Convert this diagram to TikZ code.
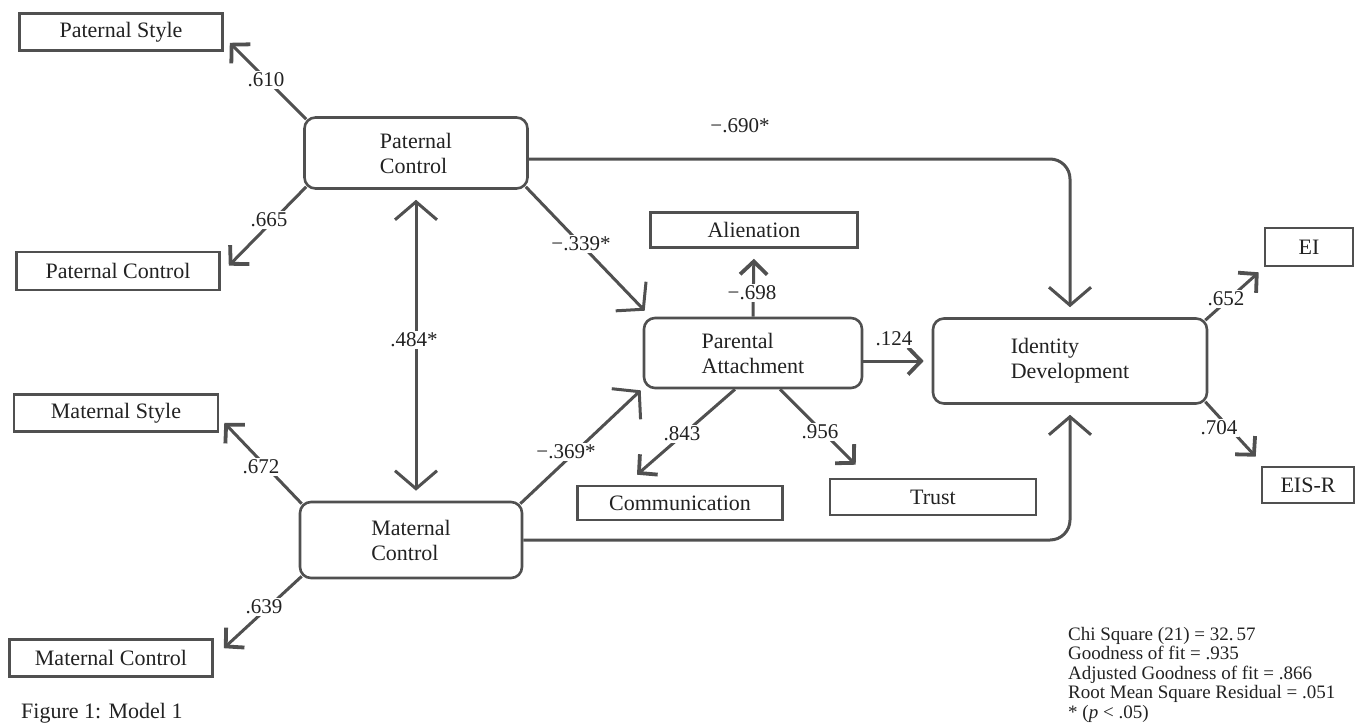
\documentclass[tikz,border=0pt]{standalone}
\usepackage{fontspec}
\setmainfont{Liberation Serif}
\usetikzlibrary{arrows.meta}
\definecolor{ln}{HTML}{505050}
\definecolor{tx}{HTML}{222222}
\begin{document}
\begin{tikzpicture}[x=1pt,y=-1pt,
  ind/.style={draw=ln, line width=2.6pt, rectangle, inner sep=0pt, font=\fontsize{22}{25}\selectfont, text=tx},
  lat/.style={draw=ln, line width=2.6pt, rounded corners=11pt, inner sep=0pt, align=left, font=\fontsize{22}{25}\selectfont, text=tx},
  conn/.style={draw=ln, line width=3pt},
  big/.style={-{Straight Barb[length=18pt,width=42pt]}},
  small/.style={-{Straight Barb[length=13pt,width=27pt,line width=3.8pt]}},
  lbl/.style={fill=white, inner sep=2pt, font=\fontsize{21}{21}\selectfont, text=tx}]
\fill[white] (0,0) rectangle (1355,723);
\useasboundingbox (0,0) rectangle (1355,723);

% nodes
\node[ind, minimum width=203pt, minimum height=37pt] (PS) at (121,32) {Paternal Style};
\node[ind, minimum width=203pt, minimum height=38pt] (PCs) at (118,271) {Paternal Control};
\node[ind, minimum width=204pt, minimum height=37pt] (MS) at (116,413) {Maternal Style};
\node[ind, minimum width=203pt, minimum height=37pt] (MCs) at (111,658) {Maternal Control};
\node[lat, minimum width=223pt, minimum height=71pt] (PC) at (416,153) {Paternal\\Control};
\node[lat, minimum width=222pt, minimum height=76pt] (MC) at (411,540) {Maternal\\Control};
\node[ind, minimum width=207pt, minimum height=35pt] (AL) at (754,230) {Alienation};
\node[lat, minimum width=218pt, minimum height=70pt] (PA) at (753,353) {Parental\\Attachment};
\node[ind, minimum width=205pt, minimum height=34pt] (CO) at (680,503) {Communication};
\node[ind, minimum width=206pt, minimum height=36pt] (TR) at (933,497) {Trust};
\node[lat, minimum width=274pt, minimum height=85pt] (ID) at (1070,361) {Identity\\Development};
\node[ind, minimum width=88pt, minimum height=38pt] (EI) at (1309,247) {EI};
\node[ind, minimum width=92pt, minimum height=36pt] (ER) at (1308,485) {EIS-R};

% connectors
\draw[conn, small] ([shift={(3,3)}]PC.north west) -- ([shift={(6,-9)}]PS.south east);
\draw[conn, small] ([shift={(3,-3)}]PC.south west) -- ([shift={(8,15)}]PCs.north east);
\draw[conn, small] ([shift={(3,3)}]MC.north west) -- ([shift={(5,-10)}]MS.south east);
\draw[conn, small] ([shift={(3,-3)}]MC.south west) -- ([shift={(10,10)}]MCs.north east);

\draw[conn, {Straight Barb[length=18pt,width=42pt]}-{Straight Barb[length=18pt,width=42pt]}, shorten <=10pt, shorten >=10pt] (PC.south) -- (PC.south |- MC.north);

\draw[conn, big] ([shift={(-3,-3)}]PC.south east) -- ([shift={(2,-6)}]PA.north west);
\draw[conn, big] ([shift={(-3,3)}]MC.north east) -- ([shift={(-2,1)}]PA.south west);

\draw[conn, big, rounded corners=20pt, shorten >=10pt] ([yshift=-6pt]PC.east) -| (ID.north);
\draw[conn, big, rounded corners=20pt, shorten >=10pt] (MC.east) -| (ID.south);

\draw[conn, small, shorten >=10pt] (PA.north) -- (AL.south);
\draw[conn, small, shorten >=8pt] (PA.east |- ID.west) -- (ID.west);
\draw[conn, small] ([xshift=-18pt]PA.south) -- ([shift={(-43,-10)}]CO.north);
\draw[conn, small] ([xshift=27pt]PA.south) -- ([shift={(27,-13)}]TR.north west);
\draw[conn, small] ([shift={(-3,3)}]ID.north east) -- ([shift={(-5,5)}]EI.south west);
\draw[conn, small] ([shift={(-3,-3)}]ID.south east) -- ([shift={(-5,-9)}]ER.north west);

% labels
\node[lbl] (l610) at (266,80) {.610};
\node[lbl] (l665) at (269,220) {.665};
\node[lbl] (l672) at (261,467) {.672};
\node[lbl] (l639) at (264,607) {.639};
\node[lbl] (l484) at (414,340) {.484*};
\node[lbl] (l339) at (581,244) {−.339*};
\node[lbl] (l369) at (566,452) {−.369*};
\node[lbl] (l690) at (740,126) {−.690*};
\node[lbl] (l698) at (752,293) {−.698};
\node[lbl] (l124) at (894,339) {.124};
\node[lbl] (l843) at (682,434) {.843};
\node[lbl] (l956) at (820,432) {.956};
\node[lbl] (l652) at (1226,299) {.652};
\node[lbl] (l704) at (1219,428) {.704};

% notes
\node[anchor=west, inner sep=0pt, font=\fontsize{22}{22}\selectfont, text=tx] (FG) at (21,713) {Figure 1: Model 1};
\node[anchor=north west, align=left, inner sep=0pt, font=\fontsize{19}{19.5}\selectfont, text=tx] (ST) at (1068,627) {Chi Square (21) = 32.\,57\\Goodness of fit = .935\\Adjusted Goodness of fit = .866\\Root Mean Square Residual = .051};
\node[anchor=west, inner sep=0pt, font=\fontsize{19}{19}\selectfont, text=tx] (PV) at (1068,714) {* ({\itshape p} < .05)};
\end{tikzpicture}
\end{document}
